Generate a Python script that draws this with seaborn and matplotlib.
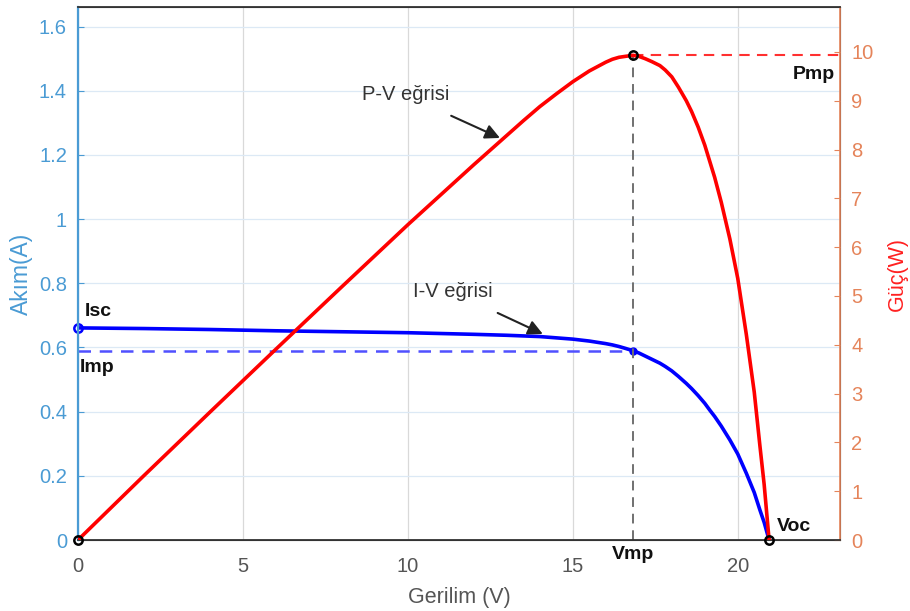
import matplotlib
matplotlib.use("Agg")
import matplotlib.pyplot as plt
import seaborn as sns
import pandas as pd

# ---- data ----
voltage = [0, 2, 4, 6, 8, 10, 12, 13, 13.5, 14, 14.5, 15, 15.5, 16, 16.2, 16.4, 16.6,
           16.82, 17.0, 17.2, 17.4, 17.64, 17.8, 18, 18.2, 18.44, 18.6, 18.8, 19.0,
           19.15, 19.3, 19.5, 19.76, 20, 20.26, 20.5, 20.67, 20.8, 20.95]
current = [0.661, 0.659, 0.656, 0.652, 0.649, 0.646, 0.641, 0.638, 0.636, 0.634, 0.630,
           0.626, 0.620, 0.612, 0.608, 0.603, 0.597, 0.590, 0.583, 0.573, 0.563, 0.551,
           0.541, 0.527, 0.510, 0.488, 0.472, 0.450, 0.426, 0.405, 0.385, 0.355, 0.312,
           0.268, 0.208, 0.148, 0.094, 0.055, 0.0]
power = [0, 1.32, 2.62, 3.91, 5.19, 6.46, 7.69, 8.29, 8.59, 8.88, 9.14, 9.39, 9.61,
         9.79, 9.85, 9.89, 9.91, 9.93, 9.91, 9.86, 9.80, 9.72, 9.63, 9.49, 9.28, 9.00,
         8.78, 8.46, 8.09, 7.76, 7.43, 6.92, 6.17, 5.36, 4.21, 3.03, 1.94, 1.14, 0]
Isc = 0.661
Imp = 0.590
Vmp = 16.82
Pmp = 9.93
Voc = 20.95
x_ticks = [0, 5, 10, 15, 20]
i_ticks = [0, 0.2, 0.4, 0.6, 0.8, 1, 1.2, 1.4, 1.6]
p_ticks = list(range(0, 11))

df = pd.DataFrame({"V": voltage, "I": current, "P": power})

sns.set_style("white")
plt.rcParams['font.family'] = ['Liberation Sans', 'DejaVu Sans']

LBLUE = '#4A9BD4'
ORANGE = '#E5845A'

fig = plt.figure(figsize=(9.10, 6.11), dpi=100)
ax = fig.add_axes([0.0857, 0.1162, 0.8374, 0.8723])
ax2 = ax.twinx()

ax.set_xlim(0, 23.1)
ax.set_ylim(0, 1.661)
ax2.set_ylim(0, 10.92)
ax.set_xticks(x_ticks)
ax.set_yticks(i_ticks)
ax.set_yticklabels([('%g' % t) for t in i_ticks])
ax2.set_yticks(p_ticks)
ax.grid(False)
for t in x_ticks[1:]:
    ax.axvline(t, color='#d9d9d9', lw=0.9, zorder=0)
for t in i_ticks[1:]:
    ax.axhline(t, color='#dce9f5', lw=0.9, zorder=0)

# I-V curve and markers
sns.lineplot(data=df, x="V", y="I", ax=ax, color='#0000FF', lw=2.6, sort=False, zorder=3)
ax.plot([0, Vmp], [Imp, Imp], ls=(0, (5, 3.5)), color='#5050FF', lw=1.8, zorder=2)
ax.plot([0], [Isc], 'o', mfc='none', mec='#0000FF', mew=1.8, ms=6, zorder=4, clip_on=False)
ax.plot([Vmp], [Imp], 'o', mfc='#0000FF', mec='#0000FF', ms=5, zorder=4)

# P-V curve on right axis
sns.lineplot(data=df, x="V", y="P", ax=ax2, color='#FF0000', lw=2.6, sort=False, zorder=3)
ax2.plot([Vmp, 23.1], [Pmp, Pmp], ls=(0, (5, 3.5)), color='#FF3030', lw=1.5, zorder=2)
ax2.plot([Vmp, Vmp], [0, Pmp], ls=(0, (5, 3.5)), color='#707070', lw=1.4, zorder=2)
ax2.plot([0, Vmp, Voc], [0, Pmp, 0], 'o', mfc='none', mec='black', mew=1.8, ms=6,
         zorder=5, clip_on=False)

# axes styling
ax.set_xlabel("Gerilim (V)", fontsize=15.5, color='#555555', labelpad=8)
ax.set_ylabel("Akım(A)", fontsize=16.5, color=LBLUE, labelpad=4)
ax2.set_ylabel("Güç(W)", fontsize=15.5, color='#FF2020', labelpad=10)
ax.tick_params(axis='x', colors='#333333', labelcolor='#555555', labelsize=14.5,
               direction='in', length=4, pad=12)
ax.tick_params(axis='y', colors=LBLUE, labelsize=14.5, direction='in', length=4, pad=8)
ax2.tick_params(axis='y', colors=ORANGE, labelsize=14.5, direction='in', length=4, pad=8)
ax2.set_xlabel("")
ax.set_facecolor('white')
for sp in ['top', 'bottom']:
    ax.spines[sp].set_color('#333333')
    ax2.spines[sp].set_color('#333333')
    ax2.spines[sp].set_linewidth(1.3)
ax.spines['left'].set_color(LBLUE)
ax2.spines['left'].set_color(LBLUE)
ax2.spines['left'].set_linewidth(1.6)
ax2.spines['right'].set_color(ORANGE)
ax2.spines['right'].set_linewidth(1.2)

# text labels
bold = dict(fontsize=14, fontweight='bold', color='#111111')
ax.text(0.2, 0.685, "Isc", ha='left', va='bottom', **bold)
ax.text(0.05, 0.565, "Imp", ha='left', va='top', **bold)
ax.text(Vmp, -0.02, "Vmp", ha='center', va='top', **bold)
ax.text(Voc + 0.25, 0.015, "Voc", ha='left', va='bottom', **bold)
ax2.text(22.95, Pmp - 0.22, "Pmp", ha='right', va='top', **bold)

ax.annotate("P-V eğrisi", xy=(12.79, 1.253), xytext=(8.6, 1.387),
            fontsize=14.5, color='#333333', va='center', ha='left',
            arrowprops=dict(arrowstyle='-|>', color='#222222', lw=1.5,
                            mutation_scale=22, shrinkA=14, shrinkB=0))
ax.annotate("I-V eğrisi", xy=(14.09, 0.642), xytext=(10.15, 0.773),
            fontsize=14.5, color='#333333', va='center', ha='left',
            arrowprops=dict(arrowstyle='-|>', color='#222222', lw=1.5,
                            mutation_scale=22, shrinkA=14, shrinkB=0))

fig.savefig("out.png", dpi=100)
